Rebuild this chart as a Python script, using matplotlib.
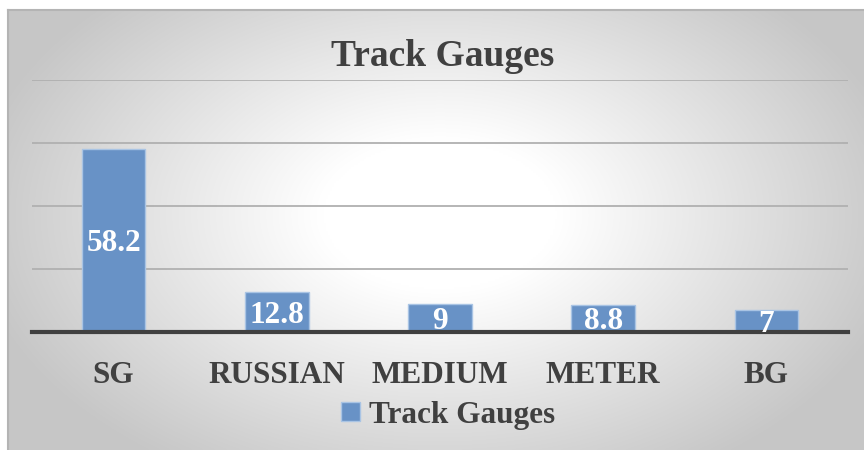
import numpy as np
import matplotlib
matplotlib.use("Agg")
import matplotlib.pyplot as plt
from matplotlib.transforms import offset_copy

categories = ["SG", "RUSSIAN", "MEDIUM", "METER", "BG"]
values = [58.2, 12.8, 9, 8.8, 7]
value_labels = ["58.2", "12.8", "9", "8.8", "7"]
series_name = "Track Gauges"
title = "Track Gauges"

W, H = 864, 450
fig = plt.figure(figsize=(W / 100, H / 100), dpi=100)
fig.patch.set_facecolor("white")

# background radial gradient in frame
bg = fig.add_axes([0, 0, 1, 1])
bg.set_xlim(0, W)
bg.set_ylim(H, 0)
bg.axis("off")
x0, y0 = 8, 10
xx, yy = np.meshgrid(np.linspace(x0, W, 400), np.linspace(y0, H, 220))
cx, cy = 440, 215
d = np.sqrt(((xx - cx) / 470) ** 2 + ((yy - cy) / 300) ** 2)
t = np.clip((d - 0.25) / 0.75, 0, 1)
g = 1 - 0.22 * t
img = np.dstack([g, g, g])
bg.imshow(img, extent=[x0, W, H, y0], aspect="auto", interpolation="bilinear", zorder=0)
bg.plot([x0, x0], [H, y0], color="#b4b4b4", lw=1.5, zorder=1)
bg.plot([x0, W], [y0, y0], color="#b4b4b4", lw=1.5, zorder=1)

serif = ["Liberation Serif", "DejaVu Serif"]

ax = fig.add_axes([32 / W, 1 - 332.3 / H, (848 - 32) / W, (332.3 - 80) / H])
ax.patch.set_alpha(0)
x = np.arange(len(categories))
bars = ax.bar(x, values, width=0.39, color="#6892C6", edgecolor="#A9C4E4",
              linewidth=1.0, zorder=3, label=series_name)
ax.set_xlim(-0.5, len(categories) - 0.5)
ax.set_ylim(0, 80)
ax.set_yticks([0, 20, 40, 60, 80])
ax.yaxis.grid(True, color="#b0b0b0", lw=1.3, zorder=0)
ax.set_axisbelow(True)
ax.tick_params(axis="y", left=False, labelleft=False)
ax.tick_params(axis="x", bottom=False, pad=17)
for s in ["top", "right", "left"]:
    ax.spines[s].set_visible(False)
ax.spines["bottom"].set_color("#404040")
ax.spines["bottom"].set_linewidth(3)
ax.spines["bottom"].set_zorder(4)
ax.set_xticks(x)
ax.set_xticklabels(categories, fontfamily=serif, fontweight="bold",
                   fontsize=22.5, color="#404040")

lab_tr = offset_copy(ax.transData, fig=fig, x=0, y=-3, units="dots")
for xi, v, lab in zip(x, values, value_labels):
    ax.text(xi, v / 2, lab, ha="center", va="center", fontfamily=serif,
            fontweight="bold", fontsize=22.5, color="white", zorder=5,
            transform=lab_tr)

fig.text(443 / W, 1 - 57 / H, title, ha="center", va="center", fontfamily=serif,
         fontweight="bold", fontsize=27, color="#404040")

leg = ax.legend(loc="center", bbox_to_anchor=(448 / W, 1 - 415 / H),
                bbox_transform=fig.transFigure, frameon=False,
                prop={"family": serif, "weight": "bold", "size": 22.5},
                handlelength=0.6, handleheight=0.6, handletextpad=0.3)
for t_ in leg.get_texts():
    t_.set_color("#404040")

fig.savefig("out.png", dpi=100)
